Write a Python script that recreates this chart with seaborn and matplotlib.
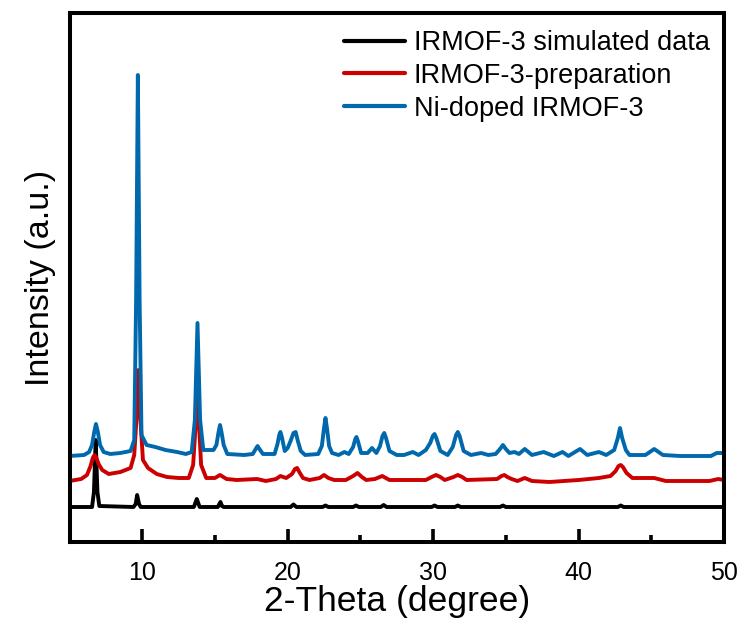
import numpy as np
import pandas as pd
import matplotlib
matplotlib.use("Agg")
import matplotlib.pyplot as plt
import seaborn as sns

# ---- data (2-theta in degrees, intensity in arbitrary units, offsets included) ----
series_names = ["IRMOF-3 simulated data", "IRMOF-3-preparation", "Ni-doped IRMOF-3"]

sim_theta = [5.0, 6.55, 6.68, 6.75, 6.8, 6.85, 6.92, 7.05, 9.4, 9.55, 9.65, 9.78, 9.9,
             13.55, 13.65, 13.75, 13.85, 13.95, 15.2, 15.3, 15.38, 15.48, 15.6,
             20.2, 20.4, 20.6, 22.4, 22.6, 22.8, 24.5, 24.7, 24.9, 26.4, 26.6, 26.8,
             29.9, 30.1, 30.3, 31.5, 31.7, 31.9, 34.6, 34.8, 35.0, 42.7, 42.9, 43.1, 50.0]
sim_int = [35, 35, 50, 80, 102, 80, 50, 36, 35, 38, 47, 38, 35,
           35, 39, 43, 39, 35, 35, 38, 40, 36, 35,
           35, 37.5, 35, 35, 36.5, 35, 35, 36.5, 35, 35, 37, 35,
           35, 36.5, 35, 35, 36.5, 35, 35, 36.5, 35, 35, 36.5, 35, 35]

prep_theta = [5.0, 5.8, 6.2, 6.45, 6.6, 6.72, 6.85, 7.0, 7.25, 7.7, 8.5, 9.2, 9.45, 9.6,
              9.74, 9.88, 10.05, 10.4, 11.0, 11.7, 12.5, 13.2, 13.5, 13.8, 14.05, 14.4,
              15.0, 15.35, 15.8, 16.5, 17.9, 18.5, 19.2, 19.5, 19.9, 20.3, 20.5, 20.65,
              20.8, 21.05, 21.5, 22.2, 22.5, 22.8, 23.2, 24.0, 24.5, 24.8, 25.1, 25.4,
              26.0, 26.5, 27.0, 29.5, 29.9, 30.2, 30.5, 30.8, 31.4, 31.7, 32.0, 32.3,
              34.4, 34.7, 34.9, 35.1, 35.4, 35.8, 36.3, 36.8, 38.0, 40.0, 41.4, 42.2,
              42.55, 42.75, 42.9, 43.05, 43.3, 43.7, 45.2, 46.0, 49.0, 49.6, 50.0]
prep_int = [61, 63, 67, 76, 84, 87, 84, 78, 72, 68, 70, 74, 87, 122,
            172, 122, 82, 74, 68, 65, 64, 64, 77, 147, 77, 64,
            64, 67, 63, 62, 63, 61, 63, 66, 64, 68, 73, 74,
            70, 64, 62, 64, 67, 64, 62, 62, 66, 69, 65, 62,
            63, 66, 62, 62, 65, 67, 65, 62, 65, 67, 65, 62,
            63, 66, 67, 65, 63, 61, 64, 61, 60, 62, 64, 66,
            71, 76, 77, 75, 69, 64, 64, 61, 61, 63, 62]

ni_theta = [5.0, 6.0, 6.35, 6.55, 6.7, 6.82, 6.95, 7.1, 7.35, 7.8, 8.5, 9.2, 9.45, 9.58,
            9.70, 9.82, 9.95, 10.3, 10.9, 11.6, 12.4, 13.0, 13.4, 13.62, 13.80, 13.98,
            14.2, 14.9, 15.1, 15.25, 15.35, 15.45, 15.6, 15.85, 17.0, 17.6, 17.8, 17.93,
            18.06, 18.3, 19.1, 19.3, 19.42, 19.5, 19.6, 19.8, 20.0, 20.2, 20.4, 20.55,
            20.7, 20.9, 21.2, 22.1, 22.35, 22.5, 22.6, 22.7, 22.85, 23.05, 23.5, 23.9,
            24.2, 24.5, 24.65, 24.73, 24.83, 25.05, 25.5, 25.8, 26.1, 26.35, 26.52, 26.64,
            26.76, 27.0, 27.5, 28.0, 28.6, 29.0, 29.5, 29.8, 29.98, 30.1, 30.22, 30.5,
            31.0, 31.35, 31.58, 31.7, 31.82, 32.1, 32.6, 33.3, 33.8, 34.3, 34.6, 34.8,
            35.0, 35.25, 35.6, 35.9, 36.3, 36.8, 37.6, 38.3, 38.9, 39.3, 40.1, 40.6,
            41.4, 41.9, 42.45, 42.7, 42.85, 43.0, 43.25, 43.5, 44.6, 45.2, 45.8, 47.0,
            49.1, 49.5, 50.0]
ni_int = [86, 87, 90, 97, 110, 118, 110, 97, 90, 88, 89, 91, 102, 242,
          467, 242, 107, 97, 95, 92, 90, 88, 90, 122, 219, 122,
          92, 92, 97, 110, 117, 110, 97, 88, 87, 88, 93, 96,
          93, 88, 88, 98, 107, 110, 105, 91, 94, 101, 109, 110,
          101, 91, 87, 88, 96, 114, 124, 114, 96, 89, 87, 90,
          88, 95, 103, 105, 101, 89, 89, 94, 89, 96, 106, 109,
          104, 91, 87, 87, 90, 87, 92, 99, 106, 108, 104, 91,
          87, 95, 107, 110, 106, 91, 87, 89, 87, 88, 93, 97,
          93, 89, 90, 88, 93, 87, 90, 86, 90, 86, 93, 87,
          90, 87, 92, 104, 114, 104, 92, 87, 87, 93, 87, 86,
          86, 89, 89]

colors = ["#000000", "#CC0000", "#0068AD"]

frames = []
for name, th, it in zip(series_names, [sim_theta, prep_theta, ni_theta],
                        [sim_int, prep_int, ni_int]):
    frames.append(pd.DataFrame({"theta": th, "intensity": it, "sample": name}))
df = pd.concat(frames, ignore_index=True)

sns.set_theme(style="ticks")
plt.rcParams["font.family"] = ["Liberation Sans", "DejaVu Sans"]
plt.rcParams["text.color"] = "black"
plt.rcParams["axes.labelcolor"] = "black"
plt.rcParams["xtick.color"] = "black"
plt.rcParams["ytick.color"] = "black"

fig = plt.figure(figsize=(7.44, 6.26), dpi=100)
ax = fig.add_axes([69.5 / 744, 84 / 626, 654.5 / 744, 529 / 626])

sns.lineplot(data=df, x="theta", y="intensity", hue="sample",
             hue_order=series_names, palette=colors, estimator=None,
             sort=False, linewidth=2.8, ax=ax)

ax.set_xlim(5, 50)
ax.set_ylim(0, 529)
ax.set_xticks([10, 20, 30, 40, 50])
ax.set_xticks([15, 25, 35, 45], minor=True)
ax.set_yticks([])
ax.tick_params(axis="x", which="major", direction="in", length=9.5, width=2.6,
               labelsize=18, pad=14, colors="black")
ax.tick_params(axis="x", which="minor", direction="in", length=5, width=2.6)
for sp in ax.spines.values():
    sp.set_linewidth(2.9)
    sp.set_color("black")
    sp.set_visible(True)

ax.set_xlabel("2-Theta (degree)", fontsize=25.5, labelpad=0, color="black")
ax.set_ylabel("Intensity (a.u.)", fontsize=24.5, labelpad=10, color="black")

leg = ax.legend(loc="upper right", bbox_to_anchor=(0.995, 0.988), frameon=False,
                fontsize=19.5, handlelength=2.25, handletextpad=0.33,
                labelspacing=0.25, borderaxespad=0.0)
for line in leg.get_lines():
    line.set_linewidth(3)
for t in leg.get_texts():
    t.set_color("black")

fig.savefig("out.png", dpi=100)
